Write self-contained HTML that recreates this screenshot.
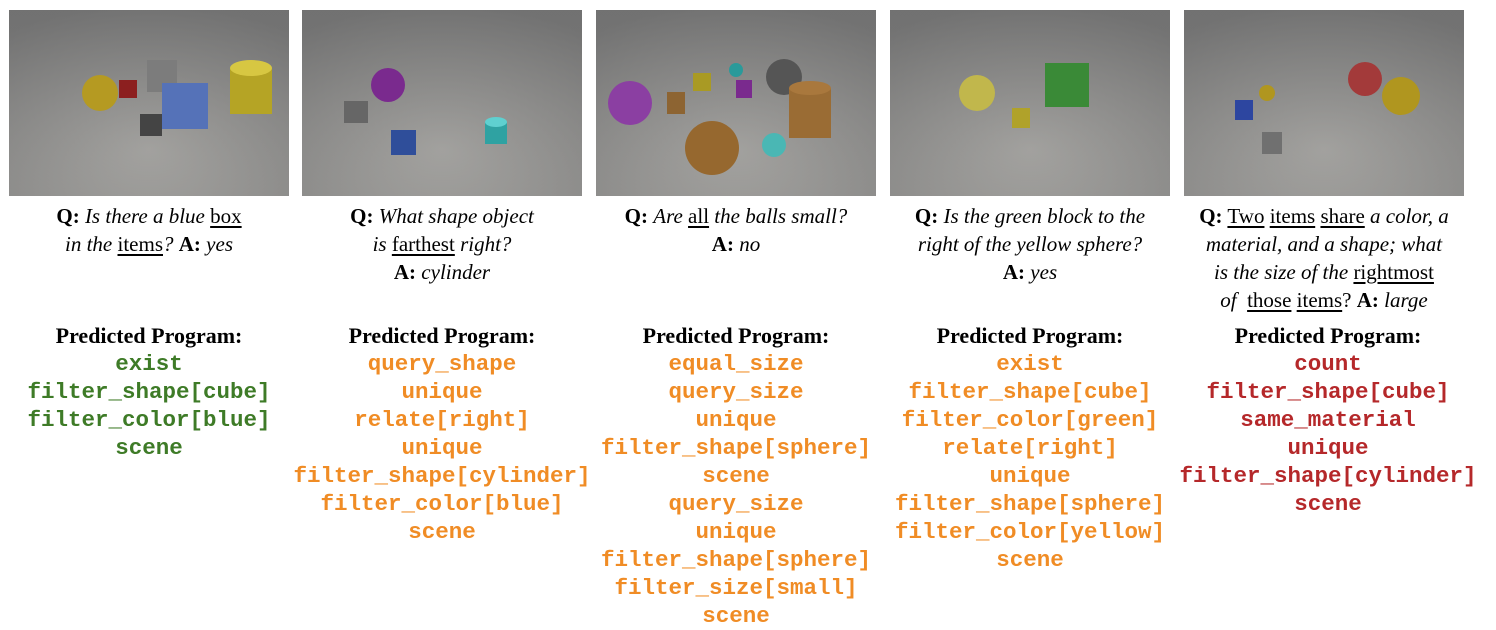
<!DOCTYPE html>
<html><head><meta charset="utf-8"><style>
body{margin:0;width:1496px;height:629px;background:#fff;position:relative;overflow:hidden;font-family:"Liberation Serif",serif;color:#000}
.img{position:absolute;top:10px;width:280px;height:186px}
.q{position:absolute;top:202px;width:320px;text-align:center;font-size:21px;line-height:28px}
.q i{font-style:italic}
.q u{text-decoration:underline;text-underline-offset:3px}
.p{position:absolute;top:322px;width:340px;text-align:center}
.p .h{font-weight:bold;font-size:22px;line-height:28px}
.p .c{font-family:"Liberation Mono",monospace;font-weight:bold;font-size:22.5px;line-height:28px;white-space:pre}
.g{color:#3e7b27}.o{color:#f08c25}.r{color:#b5282a}
</style></head><body>
<svg width="0" height="0" style="position:absolute"><defs>
<radialGradient id="bg" cx="0.5" cy="0.75" r="0.8"><stop offset="0" stop-color="#a8a7a4"/><stop offset="1" stop-color="#6d6d6d"/></radialGradient>
<linearGradient id="bgl" x1="0" y1="0" x2="0" y2="1"><stop offset="0" stop-color="#777"/><stop offset="1" stop-color="#a4a3a0"/></linearGradient>
</defs></svg>

<svg class="img" style="left:9px" viewBox="0 0 280 186"><rect width="280" height="186" fill="url(#bgl)"/><rect width="280" height="186" fill="url(#bg)" opacity=".6"/>
<circle cx="91" cy="83" r="18" fill="#b59a22"/><rect x="110" y="70" width="18" height="18" fill="#8c1f1f"/><rect x="138" y="50" width="30" height="32" fill="#7c7c7c"/><rect x="153" y="73" width="46" height="46" fill="#5572b8"/><rect x="221" y="58" width="42" height="46" fill="#b5a425"/><ellipse cx="242" cy="58" rx="21" ry="8" fill="#d7c742"/><rect x="131" y="104" width="22" height="22" fill="#444"/></svg>

<svg class="img" style="left:302px" viewBox="0 0 280 186"><rect width="280" height="186" fill="url(#bgl)"/><rect width="280" height="186" fill="url(#bg)" opacity=".6"/>
<circle cx="86" cy="75" r="17" fill="#7a2a8e"/><rect x="42" y="91" width="24" height="22" fill="#666"/><rect x="89" y="120" width="25" height="25" fill="#2f4e9a"/><rect x="183" y="112" width="22" height="22" fill="#2fa2a2"/><ellipse cx="194" cy="112" rx="11" ry="5" fill="#5fd0d0"/></svg>

<svg class="img" style="left:596px" viewBox="0 0 280 186"><rect width="280" height="186" fill="url(#bgl)"/><rect width="280" height="186" fill="url(#bg)" opacity=".6"/>
<circle cx="34" cy="93" r="22" fill="#8b3fa2"/><rect x="71" y="82" width="18" height="22" fill="#8d6432"/><rect x="97" y="63" width="18" height="18" fill="#a99a24"/><circle cx="140" cy="60" r="7" fill="#2a9a9a"/><rect x="140" y="70" width="16" height="18" fill="#7a2a8e"/><circle cx="188" cy="67" r="18" fill="#555"/><rect x="193" y="78" width="42" height="50" fill="#9a6c34"/><ellipse cx="214" cy="78" rx="21" ry="7" fill="#a9783d"/><circle cx="116" cy="138" r="27" fill="#96682f"/><circle cx="178" cy="135" r="12" fill="#4ab7b4"/></svg>

<svg class="img" style="left:890px" viewBox="0 0 280 186"><rect width="280" height="186" fill="url(#bgl)"/><rect width="280" height="186" fill="url(#bg)" opacity=".6"/>
<circle cx="87" cy="83" r="18" fill="#c1b74c"/><rect x="155" y="53" width="44" height="44" fill="#3a8a37"/><rect x="122" y="98" width="18" height="20" fill="#b0a22a"/></svg>

<svg class="img" style="left:1184px" viewBox="0 0 280 186"><rect width="280" height="186" fill="url(#bgl)"/><rect width="280" height="186" fill="url(#bg)" opacity=".6"/>
<circle cx="181" cy="69" r="17" fill="#a33a3a"/><circle cx="217" cy="86" r="19" fill="#b0961f"/><circle cx="83" cy="83" r="8" fill="#b0961f"/><rect x="51" y="90" width="18" height="20" fill="#2d46a0"/><rect x="78" y="122" width="20" height="22" fill="#707070"/></svg>

<div class="q" style="left:-11px"><b>Q:</b> <i>Is there a blue</i> <u>box</u><br><i>in the</i> <u>items</u><i>?</i> <b>A:</b> <i>yes</i></div>
<div class="q" style="left:282px"><b>Q:</b> <i>What shape object</i><br><i>is</i> <u>farthest</u> <i>right?</i><br><b>A:</b> <i>cylinder</i></div>
<div class="q" style="left:576px"><b>Q:</b> <i>Are</i> <u>all</u> <i>the balls small?</i><br><b>A:</b> <i>no</i></div>
<div class="q" style="left:870px"><b>Q:</b> <i>Is the green block to the</i><br><i>right of the yellow sphere?</i><br><b>A:</b> <i>yes</i></div>
<div class="q" style="left:1164px"><b>Q:</b> <u>Two</u> <u>items</u> <u>share</u> <i>a color, a</i><br><i>material, and a shape; what</i><br><i>is the size of the</i> <u>rightmost</u><br><i>of</i>&nbsp; <u>those</u> <u>items</u>? <b>A:</b> <i>large</i></div>

<div class="p" style="left:-21px"><div class="h">Predicted Program:</div><div class="c g">exist
filter_shape[cube]
filter_color[blue]
scene</div></div>
<div class="p" style="left:272px"><div class="h">Predicted Program:</div><div class="c o">query_shape
unique
relate[right]
unique
filter_shape[cylinder]
filter_color[blue]
scene</div></div>
<div class="p" style="left:566px"><div class="h">Predicted Program:</div><div class="c o">equal_size
query_size
unique
filter_shape[sphere]
scene
query_size
unique
filter_shape[sphere]
filter_size[small]
scene</div></div>
<div class="p" style="left:860px"><div class="h">Predicted Program:</div><div class="c o">exist
filter_shape[cube]
filter_color[green]
relate[right]
unique
filter_shape[sphere]
filter_color[yellow]
scene</div></div>
<div class="p" style="left:1158px"><div class="h">Predicted Program:</div><div class="c r">count
filter_shape[cube]
same_material
unique
filter_shape[cylinder]
scene</div></div>
</body></html>
